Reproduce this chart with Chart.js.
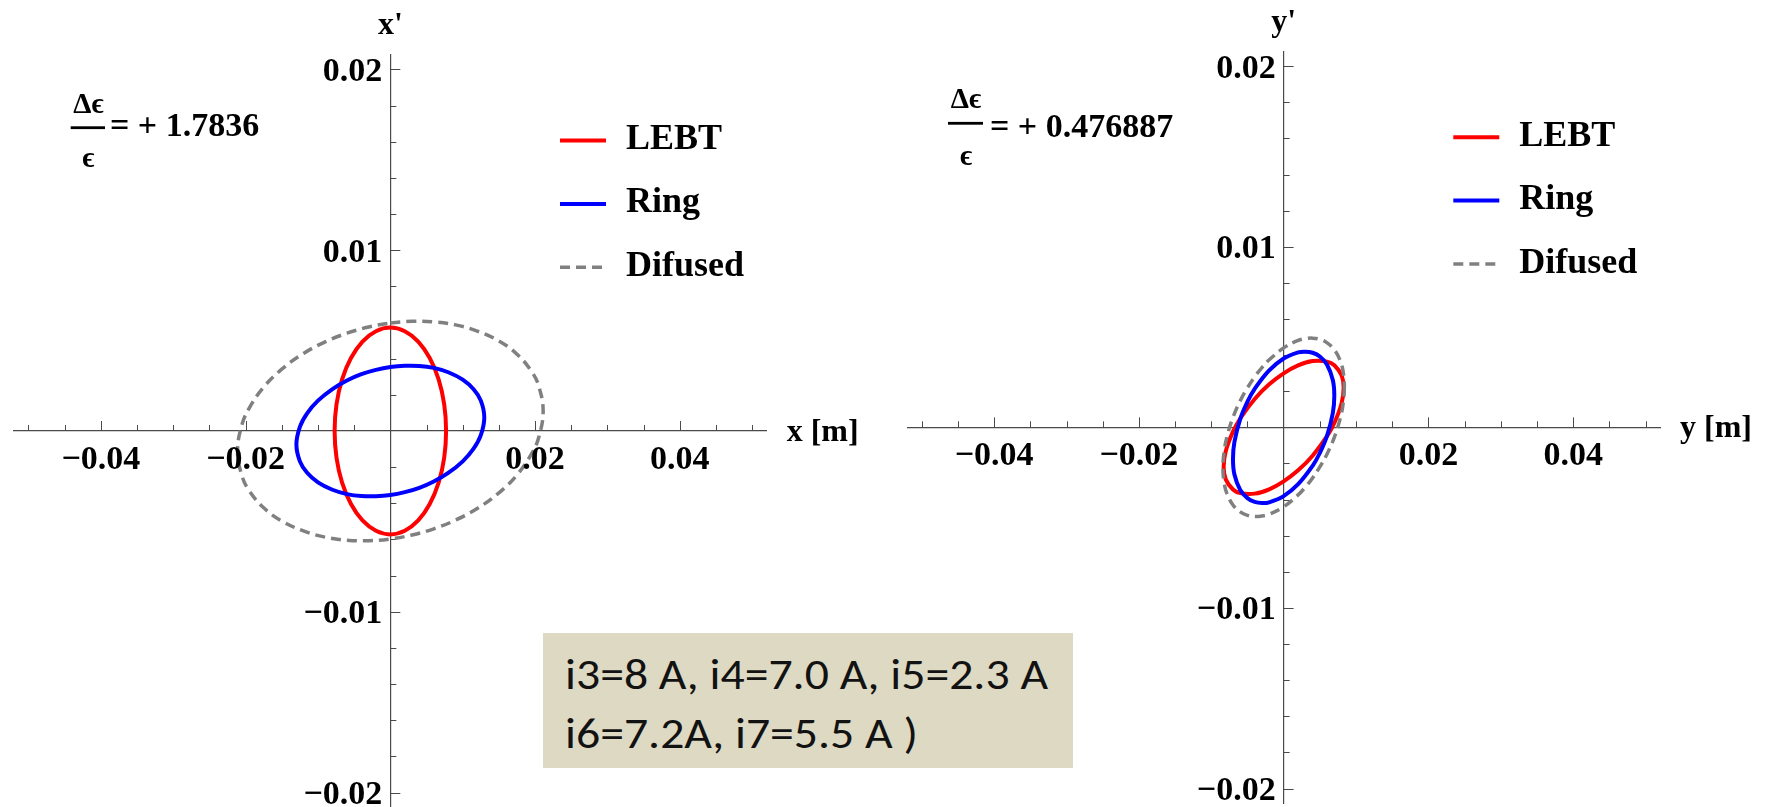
<!DOCTYPE html>
<html>
<head>
<meta charset="utf-8">
<script src="https://cdn.jsdelivr.net/npm/chart.js@4.4.1/dist/chart.umd.min.js"></script>
<style>
  html, body { margin: 0; padding: 0; background: #ffffff; }
  body { width: 1765px; height: 807px; position: relative; overflow: hidden; }
  canvas { position: absolute; top: 0; }
  #note { position: absolute; left: 543px; top: 633px; width: 530px; height: 135px; background: #ddd9c3; }
  #note span { position: absolute; white-space: nowrap; color: #121212; line-height: normal; transform-origin: 0 0; }
</style>
</head>
<body>
<canvas id="phaseX" width="880" height="807" style="left:0px"></canvas>
<canvas id="phaseY" width="872" height="807" style="left:893px"></canvas>
<div id="note"><span id="noteLine1"></span><span id="noteLine2"></span></div>
<script>
// ---- series names and annotation values ----
const seriesNames = ['LEBT', 'Ring', 'Difused'];
const emittanceGrowth = [1.7836, 0.476887];          // (Δε/ε) for x and y planes
const axisTitles = [["x'", 'x [m]'], ["y'", 'y [m]']];
const magnetCurrents = ['i3=8 A, i4=7.0 A, i5=2.3 A', 'i6=7.2A, i7=5.5 A )'];

// ---- tick labels ----
const posTickValues = [-0.04, -0.02, 0.02, 0.04];
const posTickLabels = ['\u22120.04', '\u22120.02', '0.02', '0.04'];
const angTickValues = [-0.02, -0.01, 0.01, 0.02];
const angTickLabels = ['\u22120.02', '\u22120.01', '0.01', '0.02'];

// ---- horizontal plane ellipses: x [m], x' [rad] ----
const lebtX  = [0, 0.00199, 0.00385, 0.00544, 0.00667, 0.00744, 0.00770, 0.00744, 0.00667, 0.00544, 0.00385, 0.00199,
                0, -0.00199, -0.00385, -0.00544, -0.00667, -0.00744, -0.00770, -0.00744, -0.00667, -0.00544, -0.00385, -0.00199];
const lebtXp = [0.00572, 0.00552, 0.00495, 0.00404, 0.00286, 0.00148, 0, -0.00148, -0.00286, -0.00404, -0.00495, -0.00552,
                -0.00572, -0.00552, -0.00495, -0.00404, -0.00286, -0.00148, 0, 0.00148, 0.00286, 0.00404, 0.00495, 0.00552];

const ringX  = [0, 0.0020, 0.0040, 0.0060, 0.0080, 0.0100, 0.0115, 0.0125, 0.01298, 0.0125, 0.0115, 0.0100, 0.0080, 0.0060, 0.0040, 0.0020,
                0, -0.0020, -0.0040, -0.0060, -0.0080, -0.0100, -0.0115, -0.0125, -0.01298, -0.0125, -0.0115, -0.0100, -0.0080, -0.0060, -0.0040, -0.0020];
const ringXp = [0.00354, 0.00361, 0.00360, 0.00349, 0.00325, 0.00284, 0.00231, 0.00168, 0.00075, -0.00023, -0.00098, -0.00168, -0.00232, -0.00279, -0.00314, -0.00338,
                -0.00354, -0.00361, -0.00360, -0.00349, -0.00325, -0.00284, -0.00231, -0.00168, -0.00075, 0.00023, 0.00098, 0.00168, 0.00232, 0.00279, 0.00314, 0.00338];

const difX  = [0, 0.0030, 0.0060, 0.0090, 0.0120, 0.0150, 0.0175, 0.0195, 0.0205, 0.02111, 0.0205, 0.0195, 0.0175, 0.0150, 0.0120, 0.0090, 0.0060, 0.0030,
               0, -0.0030, -0.0060, -0.0090, -0.0120, -0.0150, -0.0175, -0.0195, -0.0205, -0.02111, -0.0205, -0.0195, -0.0175, -0.0150, -0.0120, -0.0090, -0.0060, -0.0030];
const difXp = [0.00597, 0.00607, 0.00604, 0.00587, 0.00553, 0.00498, 0.00425, 0.00330, 0.00249, 0.00110, -0.00036, -0.00127, -0.00243, -0.00342, -0.00429, -0.00493, -0.00541, -0.00575,
               -0.00597, -0.00607, -0.00604, -0.00587, -0.00553, -0.00498, -0.00425, -0.00330, -0.00249, -0.00110, 0.00036, 0.00127, 0.00243, 0.00342, 0.00429, 0.00493, 0.00541, 0.00575];

// ---- vertical plane ellipses: y [m], y' [rad] ----
const lebtY  = [0.00829, 0.00800, 0.00700, 0.00600, 0.00400, 0.00200, 0, -0.00200, -0.00400, -0.00600, -0.00700, -0.00800,
                -0.00829, -0.00800, -0.00700, -0.00600, -0.00400, -0.00200, 0, 0.00200, 0.00400, 0.00600, 0.00700, 0.00800];
const lebtYp = [0.00220, 0.00132, 0.00024, -0.00049, -0.00157, -0.00238, -0.00299, -0.00343, -0.00367, -0.00364, -0.00344, -0.00288,
                -0.00220, -0.00132, -0.00024, 0.00049, 0.00157, 0.00238, 0.00299, 0.00343, 0.00367, 0.00364, 0.00344, 0.00288];

const ringY  = [0.00700, 0.00680, 0.00600, 0.00500, 0.00400, 0.00200, 0, -0.00200, -0.00300, -0.00400, -0.00500, -0.00600, -0.00680,
                -0.00700, -0.00680, -0.00600, -0.00500, -0.00400, -0.00200, 0, 0.00200, 0.00300, 0.00400, 0.00500, 0.00600, 0.00680];
const ringYp = [0.00175, 0.00080, -0.00046, -0.00142, -0.00213, -0.00315, -0.00381, -0.00415, -0.00419, -0.00413, -0.00392, -0.00347, -0.00261,
                -0.00175, -0.00080, 0.00046, 0.00142, 0.00213, 0.00315, 0.00381, 0.00415, 0.00419, 0.00413, 0.00392, 0.00347, 0.00261];

const difY  = [0.00839, 0.00820, 0.00780, 0.00700, 0.00600, 0.00500, 0.00400, 0.00300, 0.00200, 0, -0.00200, -0.00300,
               -0.00400, -0.00500, -0.00600, -0.00700, -0.00780, -0.00820, -0.00839, -0.00820, -0.00780, -0.00700, -0.00600, -0.00500,
               -0.00400, -0.00300, -0.00200, 0, 0.00200, 0.00300, 0.00400, 0.00500, 0.00600, 0.00700, 0.00780, 0.00820];
const difYp = [0.00225, 0.00127, 0.00047, -0.00055, -0.00147, -0.00219, -0.00280, -0.00331, -0.00374, -0.00440, -0.00481, -0.00491,
               -0.00494, -0.00487, -0.00468, -0.00430, -0.00371, -0.00313, -0.00225, -0.00127, -0.00047, 0.00055, 0.00147, 0.00219,
               0.00280, 0.00331, 0.00374, 0.00440, 0.00481, 0.00491, 0.00494, 0.00487, 0.00468, 0.00430, 0.00371, 0.00313];

// ---- styling ----
const SERIF = "'Liberation Serif', 'Times New Roman', serif";
const lineColors = ['#ff0000', '#0000ff', '#808080'];
const lineWidths = [4, 4, 3.5];
const lineDashes = [[], [], [10, 6]];
const AXIS_COLOR = '#4a4a4a';
const bold = size => `bold ${size}px ${SERIF}`;

// Closed curve: the point list is wrapped on both ends so every vertex gets
// symmetric neighbours for the spline; the two wrap segments stay invisible.
function closedDataset(k, xs, ys) {
  const n = xs.length;
  const pts = xs.map((x, i) => ({ x: x, y: ys[i] }));
  const data = [pts[n - 1]].concat(pts, [pts[0], pts[1]]);
  return {
    label: seriesNames[k],
    data: data,
    showLine: true,
    fill: false,
    tension: 0.4,
    pointRadius: 0,
    pointHoverRadius: 0,
    borderColor: lineColors[k],
    borderWidth: lineWidths[k],
    borderDash: lineDashes[k],
    order: 3 - k,
    segment: {
      borderColor: c => (c.p0DataIndex === 0 || c.p1DataIndex === n + 2) ? 'rgba(0,0,0,0)' : lineColors[k]
    }
  };
}

// Axis ticks (pointing into the upper / right half-plane), tick labels,
// axis titles, legend and the emittance-growth fraction.
function decorations(panel) {
  return {
    id: 'decor',
    beforeDatasetsDraw(chart) {
      const { ctx, scales: { x, y } } = chart;
      const y0 = y.getPixelForValue(0);
      const x0 = x.getPixelForValue(0);
      ctx.save();
      ctx.strokeStyle = AXIS_COLOR;
      ctx.lineWidth = 1;
      for (let i = -10; i <= 10; i++) {
        if (i === 0) continue;
        const px = Math.round(x.getPixelForValue(i * 0.005)) + 0.5;
        const len = (i % 4 === 0) ? 10 : 6;
        ctx.beginPath(); ctx.moveTo(px, y0); ctx.lineTo(px, y0 - len); ctx.stroke();
      }
      for (let j = -10; j <= 10; j++) {
        if (j === 0) continue;
        const py = Math.round(y.getPixelForValue(j * 0.002)) + 0.5;
        const len = (j % 5 === 0) ? 10 : 6;
        ctx.beginPath(); ctx.moveTo(x0, py); ctx.lineTo(x0 + len, py); ctx.stroke();
      }
      ctx.restore();
    },
    afterDraw(chart) {
      const { ctx, chartArea: area, scales: { x, y } } = chart;
      const y0 = y.getPixelForValue(0);
      const x0 = x.getPixelForValue(0);
      ctx.save();
      ctx.fillStyle = '#000';
      ctx.textBaseline = 'alphabetic';

      // tick labels
      ctx.font = bold(34);
      ctx.textAlign = 'center';
      x.ticks.forEach(t => {
        const idx = posTickValues.indexOf(t.value);
        ctx.fillText(posTickLabels[idx], x.getPixelForValue(t.value), y0 + 38);
      });
      ctx.textAlign = 'right';
      y.ticks.forEach(t => {
        const idx = angTickValues.indexOf(t.value);
        ctx.fillText(angTickLabels[idx], x0 - 8, y.getPixelForValue(t.value) + 11.5);
      });

      // axis titles
      ctx.font = bold(32);
      ctx.textAlign = 'center';
      ctx.fillText(axisTitles[panel.index][0], x0, area.top - 21);
      ctx.textAlign = 'left';
      ctx.fillText(axisTitles[panel.index][1], area.right + 20, y0 + 10);

      // legend
      chart.data.datasets.forEach((ds, k) => {
        const ry = area.top + 85.5 + k * 63.4;
        ctx.save();
        ctx.strokeStyle = lineColors[k];
        ctx.lineWidth = lineWidths[k];
        ctx.setLineDash(lineDashes[k]);
        ctx.beginPath();
        ctx.moveTo(area.left + 546, ry);
        ctx.lineTo(area.left + 592, ry);
        ctx.stroke();
        ctx.restore();
        ctx.font = bold(36);
        ctx.textAlign = 'left';
        ctx.fillText(ds.label, area.left + 612, ry + 8.5);
      });

      // emittance growth fraction
      const f = panel.frac;
      ctx.font = bold(29);
      ctx.textAlign = 'center';
      ctx.fillText('\u0394\u03f5', f.cx, f.numBase);
      ctx.fillText('\u03f5', f.cx, f.denBase);
      ctx.fillRect(f.barX0, f.barY - 1.4, f.barX1 - f.barX0, 2.8);
      ctx.font = bold(34);
      ctx.textAlign = 'left';
      ctx.fillText('= + ' + emittanceGrowth[panel.index], f.eqX, f.eqBase);
      ctx.restore();
    }
  };
}

function buildPanel(canvasId, sets, panel) {
  const datasets = sets.map((s, k) => closedDataset(k, s[0], s[1]));
  return new Chart(document.getElementById(canvasId), {
    type: 'scatter',
    data: { datasets: datasets },
    options: {
      responsive: false,
      animation: false,
      devicePixelRatio: 1,
      layout: { padding: panel.padding },
      plugins: { legend: { display: false }, tooltip: { enabled: false } },
      events: [],
      scales: {
        x: {
          type: 'linear', min: -0.052, max: 0.052,
          position: { y: 0 },
          afterBuildTicks: s => { s.ticks = posTickValues.map(v => ({ value: v })); },
          ticks: { display: false },
          grid: { display: true, drawOnChartArea: false, drawTicks: false },
          border: { display: true, color: AXIS_COLOR, width: 1.2 }
        },
        y: {
          type: 'linear', min: -0.0208, max: 0.0208,
          position: { x: 0 },
          afterBuildTicks: s => { s.ticks = angTickValues.map(v => ({ value: v })); },
          ticks: { display: false },
          grid: { display: true, drawOnChartArea: false, drawTicks: false },
          border: { display: true, color: AXIS_COLOR, width: 1.2 }
        }
      }
    },
    plugins: [decorations(panel)]
  });
}

buildPanel('phaseX', [[lebtX, lebtXp], [ringX, ringXp], [difX, difXp]], {
  index: 0,
  padding: { left: 14, right: 113.3, top: 55, bottom: 0 },
  frac: { cx: 88.4, numBase: 113.3, denBase: 167.3, barX0: 70.7, barX1: 105, barY: 127.7, eqX: 110, eqBase: 136 }
});

buildPanel('phaseY', [[lebtY, lebtYp], [ringY, ringYp], [difY, difYp]], {
  index: 1,
  padding: { left: 14.3, right: 105, top: 51.7, bottom: 4 },
  frac: { cx: 73, numBase: 108.3, denBase: 165, barX0: 55, barX1: 90, barY: 123.3, eqX: 97, eqBase: 136.7 }
});

// ---- settings note box ----
(function () {
  const family = "Carlito, Calibri, Lato, 'Open Sans', sans-serif";
  const size = 44;
  const meas = document.createElement('canvas').getContext('2d');
  meas.font = `${size}px ${family}`;
  const m = meas.measureText(magnetCurrents[0]);
  const stretch = 483 / m.width;
  const ascent = m.fontBoundingBoxAscent || size * 1.0;
  const baselines = [56, 115];
  ['noteLine1', 'noteLine2'].forEach((id, i) => {
    const el = document.getElementById(id);
    el.textContent = magnetCurrents[i];
    el.style.fontFamily = family;
    el.style.fontSize = size + 'px';
    el.style.left = '22px';
    el.style.top = (baselines[i] - ascent) + 'px';
    el.style.transform = `scaleX(${stretch})`;
  });
})();
</script>
</body>
</html>
